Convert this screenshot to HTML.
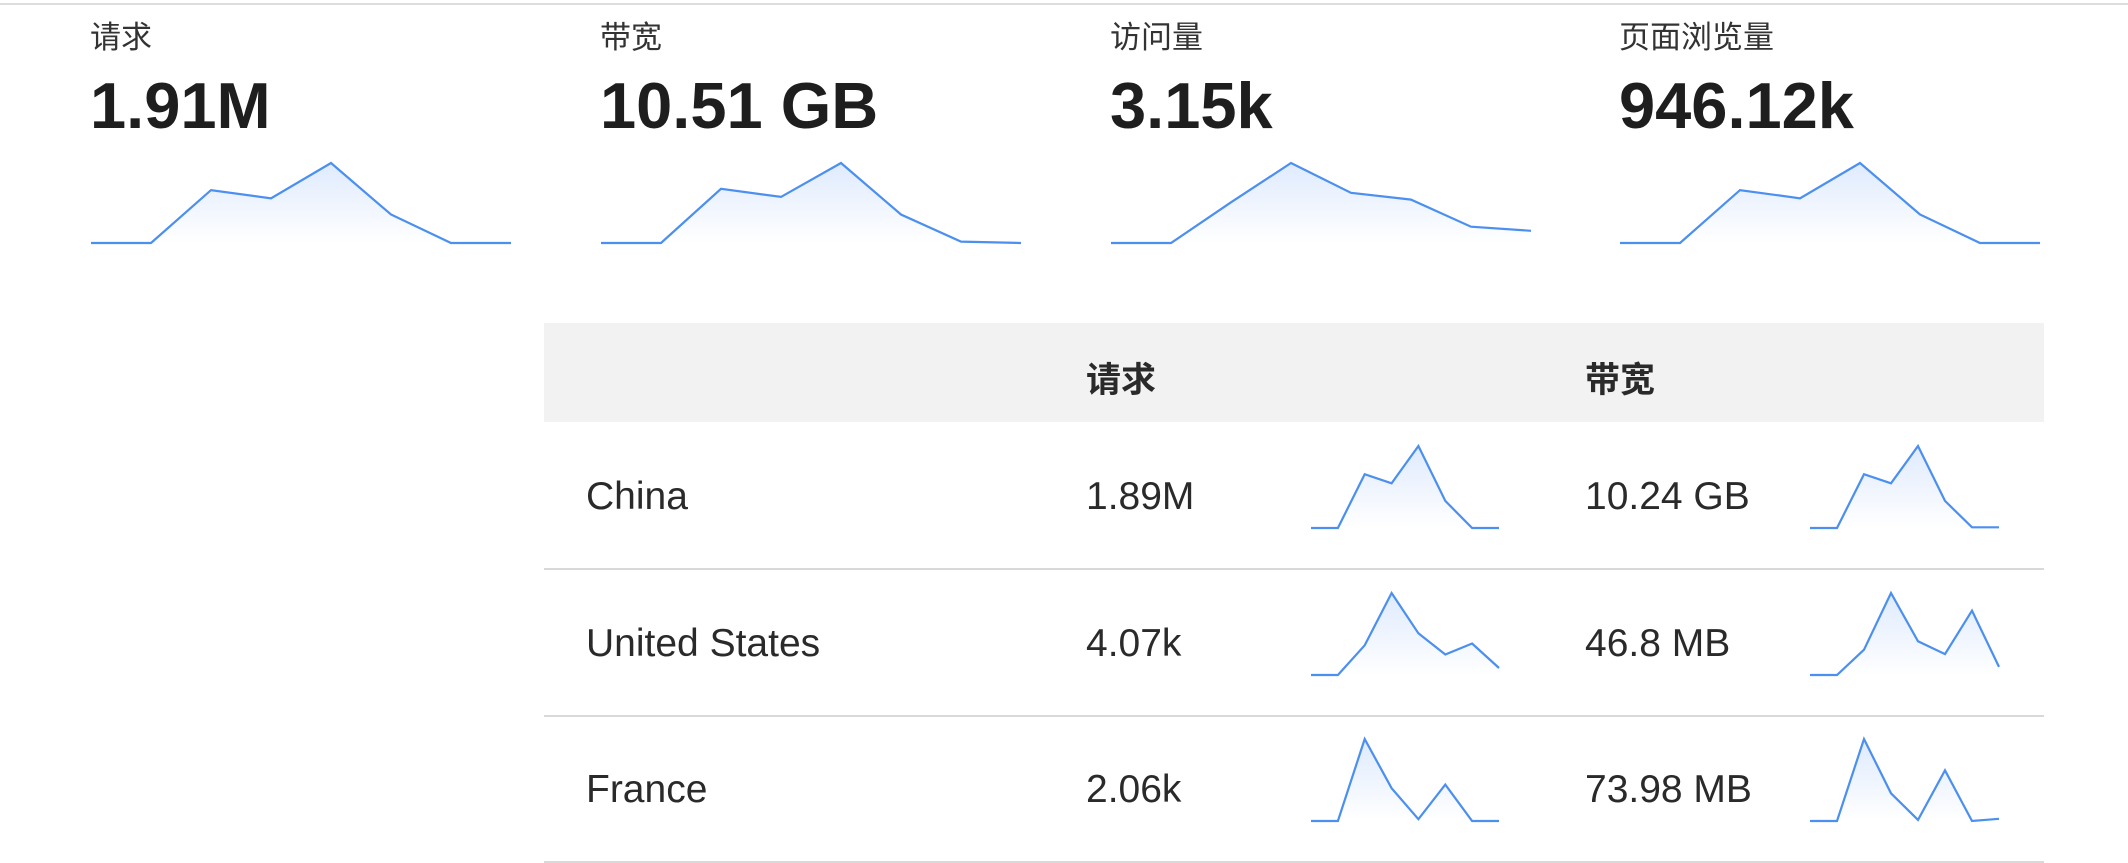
<!DOCTYPE html>
<html><head><meta charset="utf-8">
<style>
body{margin:0;width:2128px;height:863px;background:#fff;position:relative;overflow:hidden;font-family:"Liberation Sans","Noto Sans CJK SC",sans-serif;color:#222}
.topline{position:absolute;left:0;top:3px;width:2128px;height:2px;background:#ddd}
.card{position:absolute;top:0;width:422px;height:260px}
.ctitle{position:absolute;left:0;top:12px;font-size:31px;color:#333}
.cval{position:absolute;left:0;top:68px;font-size:65px;font-weight:bold;color:#1e1e1e}
.spark{position:absolute;overflow:visible}
.thead{position:absolute;left:544px;top:323px;width:1500px;height:99px;background:#f2f2f2}
.th{position:absolute;top:352px;font-size:35px;font-weight:bold;color:#2a2a2a}
.row-line{position:absolute;left:544px;width:1500px;height:2px;background:#d9d9d9}
.cell{position:absolute;font-size:39px;color:#2a2a2a;line-height:40px}
</style></head><body>
<div class="topline"></div>
<div id="cards"></div>
<div class="thead"></div>
<div class="th" style="left:1086px">请求</div>
<div class="th" style="left:1585px">带宽</div>
<div id="rows"></div>
<script>
const cardTitles=["请求","带宽","访问量","页面浏览量"];
const cardValues=["1.91M","10.51 GB","3.15k","946.12k"];
const cardReq=[0,0,39,33,59,21,0,0];
const cardBw=[0,0,40,34,59,21,1,0];
const cardVisits=[0,0,30,59,37,32,12,9];
const cardViews=[0,0,39,33,59,21,0,0];
const countries=["China","United States","France"];
const reqValues=["1.89M","4.07k","2.06k"];
const bwValues=["10.24 GB","46.8 MB","73.98 MB"];
const chinaReq=[0,0,147,122,224,74,0,0];
const chinaBw=[0,0,147,122,224,74,2,2];
const usReq=[0,0,81,224,114,56,86,19];
const usBw=[0,0,69,224,92,57,176,22];
const franceReq=[0,0,225,90,5,100,0,0];
const franceBw=[0,0,225,76,3,139,0,6];

const NS="http://www.w3.org/2000/svg";
let gid=0;
function spark(parent,vals,x,y,w,h,name){
  const svg=document.createElementNS(NS,"svg");
  svg.setAttribute("class","spark");
  svg.setAttribute("width",w);svg.setAttribute("height",h+4);
  svg.style.left=x+"px";svg.style.top=(y-2)+"px";
  
  
  const max=Math.max(...vals)||1;
  const sx=i=>1+i*(w-2)/(vals.length-1);
  const sy=v=>2+h-v/max*h;
  const id="g"+(gid++);
  svg.innerHTML='<defs><linearGradient id="'+id+'" x1="0" y1="0" x2="0" y2="1"><stop offset="0" stop-color="#dbe8fd" stop-opacity="0.9"/><stop offset="1" stop-color="#ffffff" stop-opacity="0.9"/></linearGradient></defs>';
  const pts=vals.map((v,i)=>sx(i).toFixed(1)+","+sy(v).toFixed(1));
  const area=document.createElementNS(NS,"polygon");
  area.setAttribute("points",pts.join(" ")+" "+sx(vals.length-1)+","+(h+2)+" "+sx(0)+","+(h+2));
  area.setAttribute("fill","url(#"+id+")");
  
  
  svg.appendChild(area);
  const line=document.createElementNS(NS,"polyline");
  line.setAttribute("points",pts.join(" "));
  line.setAttribute("fill","none");line.setAttribute("stroke","#4b8ff0");line.setAttribute("stroke-width","2.2");
  
  
  svg.appendChild(line);
  parent.appendChild(svg);
}
const cardData=[cardReq,cardBw,cardVisits,cardViews];
const cardX=[90,600,1110,1619];
const cards=document.getElementById("cards");
cardTitles.forEach((t,i)=>{
  const c=document.createElement("div");c.className="card";c.style.left=cardX[i]+"px";
  
  
  const a=document.createElement("div");a.className="ctitle";a.textContent=t;
  
  
  const b=document.createElement("div");b.className="cval";b.textContent=cardValues[i];
  
  
  c.appendChild(a);c.appendChild(b);cards.appendChild(c);
  spark(document.body,cardData[i],cardX[i],163,422,80,"stat-sparkline");
});
const rowReq=[chinaReq,usReq,franceReq];
const rowBw=[chinaBw,usBw,franceBw];
const rowTop=[422,569,715];
const rows=document.getElementById("rows");
countries.forEach((c,i)=>{
  const cy=rowTop[i]+75;
  const mk=(txt,x,name)=>{const d=document.createElement("div");d.className="cell";d.style.left=x+"px";d.style.top=(cy-20)+"px";d.textContent=txt;
    
    
    rows.appendChild(d);};
  mk(c,586,"country-name");mk(reqValues[i],1086,"country-requests");mk(bwValues[i],1585,"country-bandwidth");
  spark(document.body,rowReq[i],1310,cy-51,190,82,"requests-sparkline");
  spark(document.body,rowBw[i],1809,cy-51,191,82,"bandwidth-sparkline");
  const l=document.createElement("div");l.className="row-line";l.style.top=(rowTop[i]+146)+"px";
  
  
  rows.appendChild(l);
});
</script>
</body></html>
